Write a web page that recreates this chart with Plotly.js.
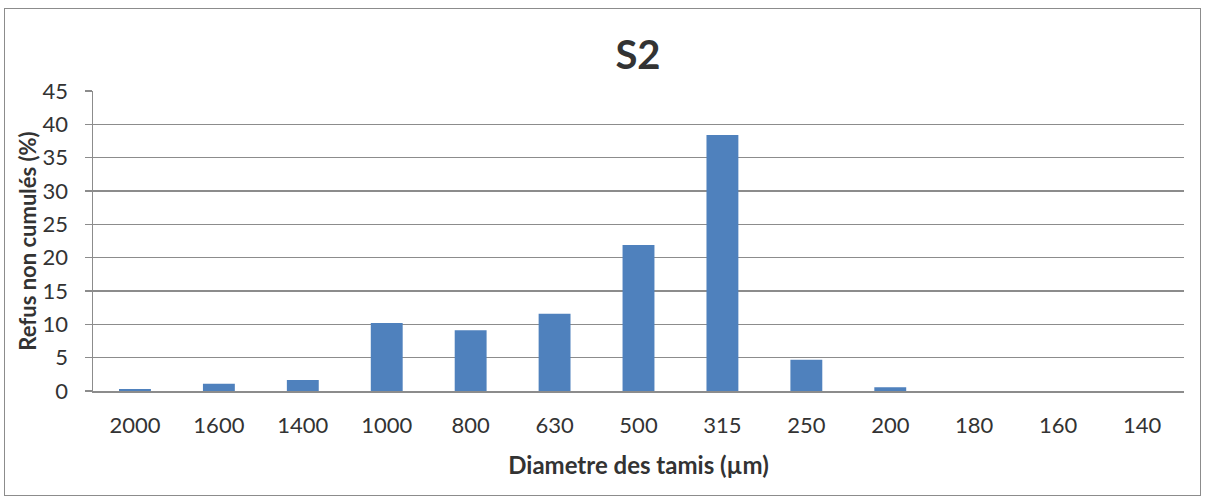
<!DOCTYPE html>
<html>
<head>
<meta charset="utf-8">
<script src="https://cdn.plot.ly/plotly-3.0.1.min.js"></script>
<style>
html,body{margin:0;padding:0;background:#fff;}
#wrap{position:relative;width:1206px;height:504px;}
#chart{width:1206px;height:504px;}
#frame{position:absolute;left:4px;top:8px;width:1197px;height:488px;border:1.5px solid #8c8c8c;pointer-events:none;box-sizing:border-box;}
</style>
</head>
<body>
<div id="wrap"><div id="chart"></div><div id="frame"></div></div>
<script>
var categories = ["2000","1600","1400","1000","800","630","500","315","250","200","180","160","140"];
var values = [0.3, 1.1, 1.65, 10.2, 9.1, 11.6, 21.9, 38.4, 4.7, 0.55, 0, 0, 0];
var yTicks = [0,5,10,15,20,25,30,35,40,45];

var trace = {
  type: 'bar',
  x: categories,
  y: values,
  marker: {color: '#4f81bd', line: {width: 0}},
  hoverinfo: 'x+y'
};

var font = "Lato, 'Open Sans', sans-serif";
var layout = {
  width: 1206, height: 504,
  margin: {l: 93, r: 22, t: 91, b: 113},
  paper_bgcolor: '#fff', plot_bgcolor: '#fff',
  bargap: 0.62,
  showlegend: false,
  font: {family: font, color: '#333', size: 22},
  title: {text: '<b>S2</b>', font: {family: font, size: 40, color: '#333'}, x: 0.529, xanchor: 'center', y: 0.89, yanchor: 'middle'},
  xaxis: {
    type: 'category',
    title: {text: '<b>Diametre des tamis (µm)</b>', font: {family: font, size: 24, color: '#333'}, standoff: 20},
    tickfont: {family: font, size: 22, color: '#333'},
    ticklabelstandoff: 14,
    showline: true, linecolor: '#8c8c8c', linewidth: 1.5,
    showgrid: false, ticks: '', ticklen: 0,
    automargin: false
  },
  yaxis: {
    range: [0, 45],
    tickvals: yTicks,
    title: {text: '<b>Refus non cumulés (%)</b>', font: {family: font, size: 22, color: '#333'}, standoff: 0},
    tickfont: {family: font, size: 22, color: '#333'},
    ticklabelstandoff: 12,
    showline: true, linecolor: '#8c8c8c', linewidth: 1.5,
    ticks: 'outside', ticklen: 7, tickcolor: '#8c8c8c', tickwidth: 1.5,
    gridcolor: '#8c8c8c', gridwidth: 1.5,
    zeroline: false,
    automargin: false
  }
};

Plotly.newPlot('chart', [trace], layout, {displayModeBar: false, staticPlot: true});
</script>
</body>
</html>
